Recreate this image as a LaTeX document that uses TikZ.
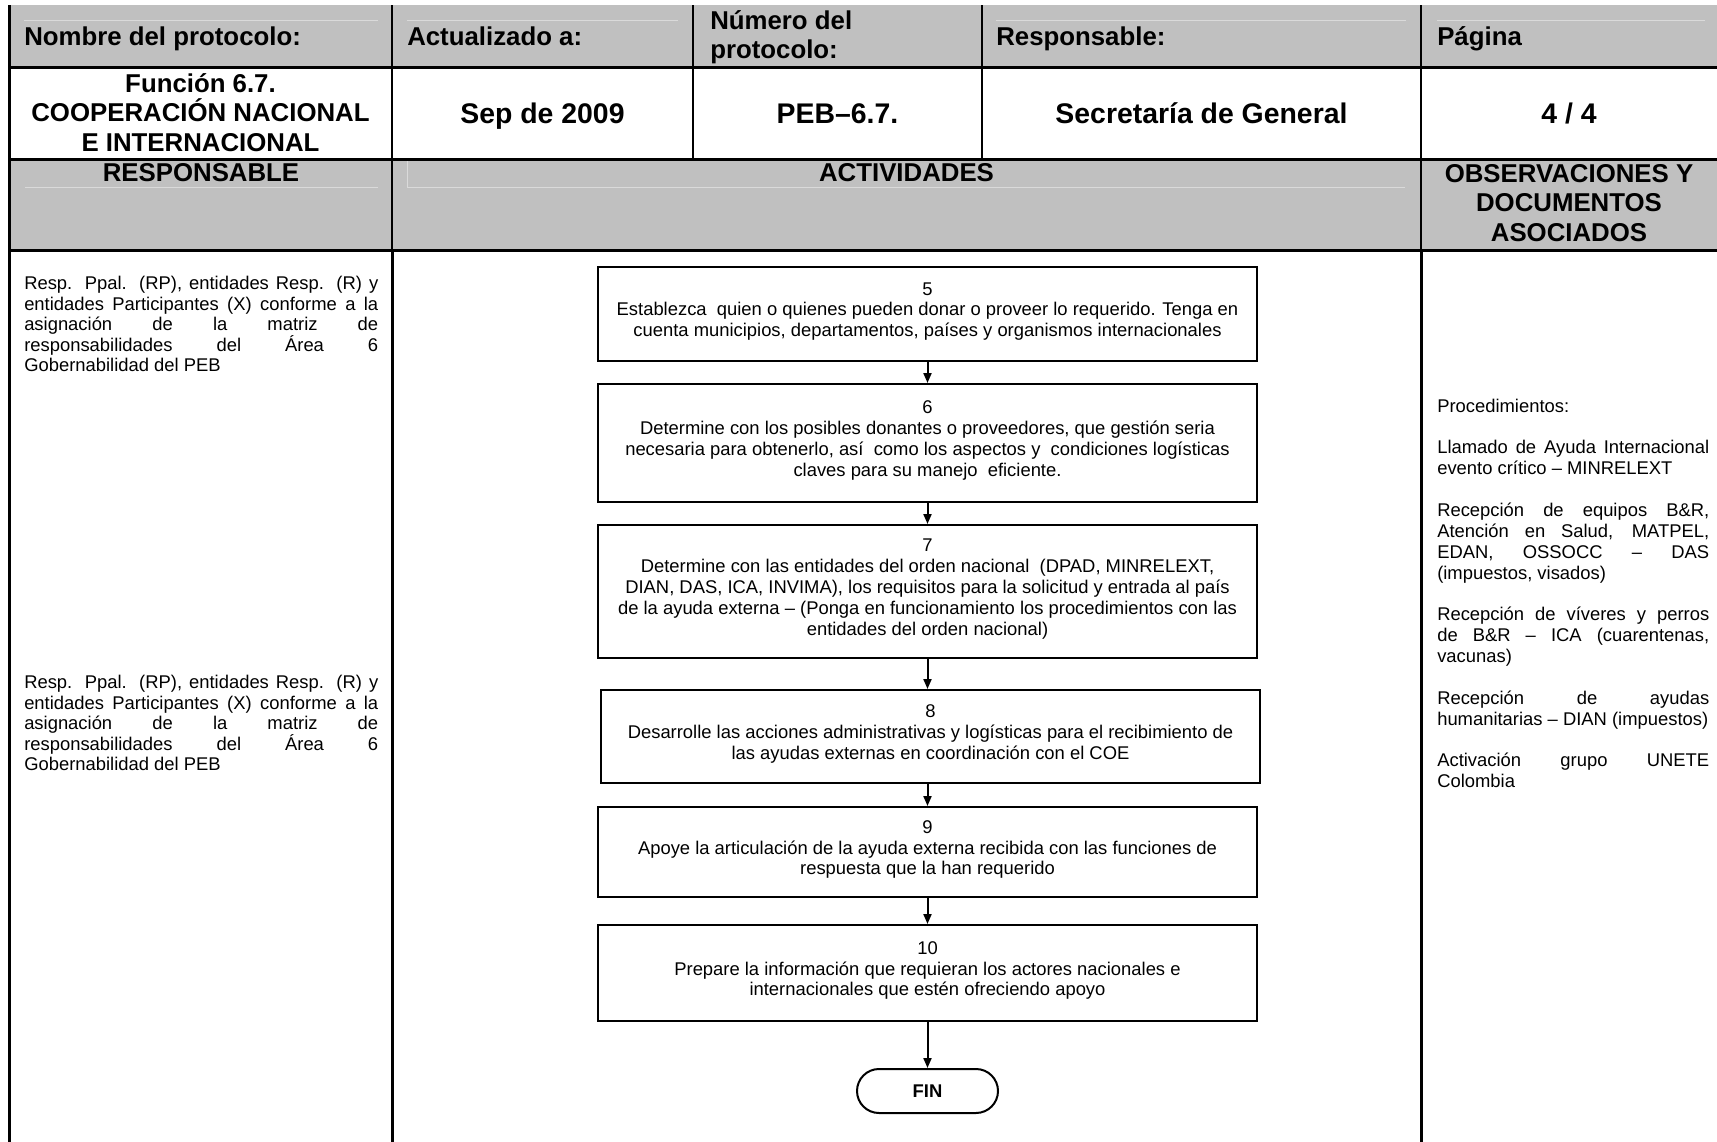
\documentclass[tikz,border=0pt]{standalone}
\usepackage{fontspec}
\setmainfont{Liberation Sans}
\usetikzlibrary{arrows.meta}
\definecolor{hdrgray}{HTML}{C0C0C0}
\definecolor{faintline}{HTML}{DADADA}
\newcommand{\jleft}[1]{\makebox[265.5pt][s]{#1}}
\newcommand{\jright}[1]{\makebox[204pt][s]{#1}}
\begin{document}
\begin{tikzpicture}[x=0.75pt,y=-0.75pt,
  hdr/.style={font=\fontsize{19.35pt}{21.75pt}\selectfont\bfseries, inner sep=0pt},
  val/.style={font=\fontsize{21.3pt}{24pt}\selectfont\bfseries, inner sep=0pt},
  bodytxt/.style={font=\fontsize{13.8pt}{15.65pt}\selectfont, inner sep=0pt, align=left},
  resptxt/.style={font=\fontsize{13.8pt}{15.4pt}\selectfont, inner sep=0pt, align=left},
  stepbox/.style={draw, line width=1.5pt, minimum width=494.25pt, align=center,
     font=\fontsize{13.8pt}{15.65pt}\selectfont, inner sep=0pt, text depth=6.5pt},
  endbox/.style={draw, line width=1.5pt, rounded corners=16.5pt, minimum width=105.75pt,
     minimum height=33pt, font=\fontsize{13.8pt}{15.65pt}\selectfont\bfseries, inner sep=0pt},
  flow/.style={line width=1.5pt, -{Triangle[length=7.5pt,width=6pt]}},
  heavyrule/.style={line width=2.25pt},
  lightrule/.style={line width=1.5pt},
  faint/.style={faintline, line width=0.75pt}
]
\useasboundingbox (0,0) rectangle (1717,1142);
\fill[white] (0,0) rectangle (1717,1142);

% gray header bands
\fill[hdrgray] (9,5) rectangle (1717,67);
\fill[hdrgray] (9,159) rectangle (1717,250);

% faint paragraph-border lines inside the gray cells
\draw[faint] (24,20) -- (378,20);
\draw[faint] (407,20) -- (678,20);
\draw[faint] (996,20) -- (1406,20);
\draw[faint] (1437,20) -- (1705,20);
\draw[faint] (25,187) -- (378,187);
\draw[faint] (407,161) -- (407,187) -- (1405,187);

% table rules
\draw[heavyrule] (9,5) -- (9,1142);
\draw[lightrule] (392,5) -- (392,250);
\draw[heavyrule] (392,250) -- (392,1142);
\draw[lightrule] (693,5) -- (693,159);
\draw[lightrule] (982,5) -- (982,159);
\draw[lightrule] (1421,5) -- (1421,250);
\draw[heavyrule] (1421,250) -- (1421,1142);
\draw[heavyrule] (9,67) -- (1717,67);
\draw[heavyrule] (9,159) -- (1717,159);
\draw[heavyrule] (9,250) -- (1717,250);

% row 1
\node[hdr, anchor=base west] (h1) at (24,45.5) {Nombre del protocolo:};
\node[hdr, anchor=base west] (h2) at (407,45.5) {Actualizado a:};
\node[hdr, anchor=west, align=left] (h3) at (710,37.5) {Número del\\protocolo:};
\node[hdr, anchor=base west] (h4) at (996,45.5) {Responsable:};
\node[hdr, anchor=base west] (h5) at (1437,45.5) {Página};

% row 2
\node[hdr, align=center, font=\fontsize{19.35pt}{22pt}\selectfont\bfseries] (v1) at (200.5,112.5)
  {Función 6.7.\\COOPERACIÓN NACIONAL\\E INTERNACIONAL};
\node[val, anchor=base] (v2) at (542.5,123) {Sep de 2009};
\node[val, anchor=base] (v3) at (837.5,123) {PEB–6.7.};
\node[val, anchor=base] (v4) at (1201.5,123) {Secretaría de General};
\node[val, anchor=base] (v5) at (1569,123) {4 / 4};

% row 3
\node[hdr] (c1) at (201,173) {RESPONSABLE};
\node[hdr] (c2) at (906.5,173) {ACTIVIDADES};
\node[hdr, align=center, font=\fontsize{19.35pt}{22pt}\selectfont\bfseries] (c3) at (1569,203)
  {OBSERVACIONES Y\\DOCUMENTOS\\ASOCIADOS};

% responsible column
\node[resptxt, anchor=north west] (r1) at (24,276) {%
\jleft{Resp. Ppal. (RP), entidades Resp. (R) y}\\
\jleft{entidades Participantes (X) conforme a la}\\
\jleft{asignación de la matriz de}\\
\jleft{responsabilidades del Área 6}\\
Gobernabilidad del PEB};
\node[resptxt, anchor=north west] (r2) at (24,675) {%
\jleft{Resp. Ppal. (RP), entidades Resp. (R) y}\\
\jleft{entidades Participantes (X) conforme a la}\\
\jleft{asignación de la matriz de}\\
\jleft{responsabilidades del Área 6}\\
Gobernabilidad del PEB};

% observations column
\node[bodytxt, anchor=north west] (obs) at (1437,398.5) {%
Procedimientos:\\[15.65pt]
\jright{Llamado de Ayuda Internacional}\\
evento crítico – MINRELEXT\\[15.65pt]
\jright{Recepción de equipos B\&R,}\\
\jright{Atención en Salud, MATPEL,}\\
\jright{EDAN, OSSOCC – DAS}\\
(impuestos, visados)\\[15.65pt]
\jright{Recepción de víveres y perros}\\
\jright{de B\&R – ICA (cuarentenas,}\\
vacunas)\\[15.65pt]
\jright{Recepción de ayudas}\\
humanitarias – DIAN (impuestos)\\[15.65pt]
\jright{Activación grupo UNETE}\\
Colombia};

% activities flow
\node[stepbox, minimum height=70.5pt] (b5) at (927.5,314) {5\\Establezca~ quien o quienes pueden donar o proveer lo requerido. Tenga en\\cuenta municipios, departamentos, países y organismos internacionales};
\node[stepbox, minimum height=88.5pt] (b6) at (927.5,443) {6\\Determine con los posibles donantes o proveedores, que gestión seria\\necesaria para obtenerlo, así~ como los aspectos y~ condiciones logísticas\\claves para su manejo~ eficiente.};
\node[stepbox, minimum height=99.75pt] (b7) at (927.5,591.5) {7\\Determine con las entidades del orden nacional~ (DPAD, MINRELEXT,\\DIAN, DAS, ICA, INVIMA), los requisitos para la solicitud y entrada al país\\de la ayuda externa – (Ponga en funcionamiento los procedimientos con las\\entidades del orden nacional)};
\node[stepbox, minimum height=69.75pt] (b8) at (930.5,736.5) {8\\Desarrolle las acciones administrativas y logísticas para el recibimiento de\\las ayudas externas en coordinación con el COE};
\node[stepbox, minimum height=67.5pt] (b9) at (927.5,852) {9\\Apoye la articulación de la ayuda externa recibida con las funciones de\\respuesta que la han requerido};
\node[stepbox, minimum height=72pt] (b10) at (927.5,973) {10\\Prepare la información que requieran los actores nacionales e\\internacionales que estén ofreciendo apoyo};
\node[endbox] (fin) at (927.5,1091) {FIN};

\draw[flow] (b5) -- (b6);
\draw[flow] (b6) -- (b7);
\draw[flow] (b7.south) -- (b7.south |- b8.north);
\draw[flow] (b8.south -| b9.north) -- (b9.north);
\draw[flow] (b9) -- (b10);
\draw[flow] (b10) -- (fin);
\end{tikzpicture}
\end{document}
